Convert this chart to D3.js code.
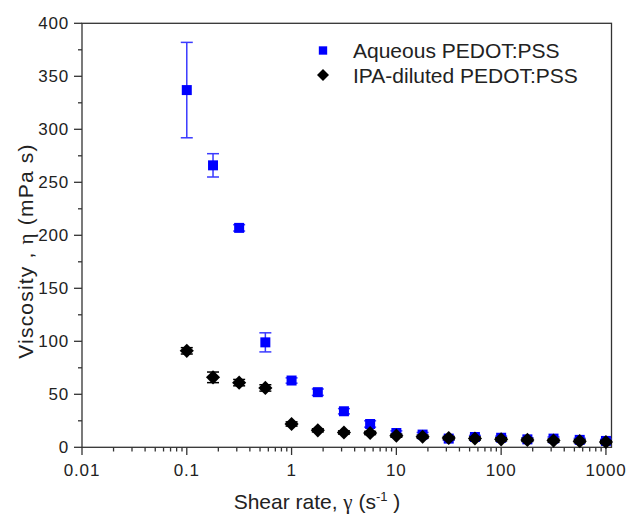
<!DOCTYPE html>
<html>
<head>
<meta charset="utf-8">
<script src="https://cdn.jsdelivr.net/npm/d3@7"></script>
<style>
  body { margin: 0; background: #fff; }
  svg { display: block; }
  text { font-family: 'Liberation Sans', Arial, sans-serif; fill: #222; }
</style>
</head>
<body>
<svg id="chart" width="627" height="515"></svg>
<script>
// shear rates (s^-1)
const shearRates = [0.1, 0.178, 0.316, 0.562, 1, 1.78, 3.16, 5.62, 10, 17.8, 31.6, 56.2, 100, 178, 316, 562, 1000];

// Aqueous PEDOT:PSS viscosity (mPa s) and error half-widths
const aqueous = [337, 266, 207, 99, 63, 52, 34, 22, 13.5, 12, 8.2, 9.7, 9, 7.5, 8.2, 7, 6];
const aqueousErr = [45, 11, 3, 9, 2.5, 3, 2.5, 3, 2, 2, 1.5, 1.5, 1.5, 1.5, 1.5, 1.5, 1.5];

// IPA-diluted PEDOT:PSS
const ipa = [91, 66, 61, 56, 22, 16, 14, 13.5, 11, 10, 8.8, 8.3, 7.5, 7, 6.3, 5.8, 5];
const ipaErr = [3, 5, 3, 3, 2, 1.5, 1.5, 1.5, 1.5, 1.5, 1.5, 1.5, 1.5, 1.5, 1.5, 1.5, 1.5];

const xTicks = [0.01, 0.1, 1, 10, 100, 1000];
const yTicks = [0, 50, 100, 150, 200, 250, 300, 350, 400];
const legendLabels = ['Aqueous PEDOT:PSS', 'IPA-diluted PEDOT:PSS'];

const svg = d3.select('#chart');
const x = d3.scaleLog().domain([0.01, 1130]).range([82, 611.5]);
const y = d3.scaleLinear().domain([0, 400]).range([447.3, 23.3]);

// square-ish diamond (d3's own diamond is too narrow)
const wideDiamond = {
    draw(ctx, size) {
        var r = Math.sqrt(size / 2);
        ctx.moveTo(0, -r); ctx.lineTo(r, 0); ctx.lineTo(0, r); ctx.lineTo(-r, 0); ctx.closePath();
    }
};

// minor ticks
var xMinor = [];
for (var e = -2; e < 3; e++) for (var k = 2; k <= 9; k++) xMinor.push(k * Math.pow(10, e));
var yMinor = d3.range(25, 400, 50);

const axisG = svg.append('g').attr('stroke', '#333').attr('stroke-width', 1.3);
// frame
axisG.append('rect')
    .attr('x', x.range()[0]).attr('y', y.range()[1])
    .attr('width', x.range()[1] - x.range()[0])
    .attr('height', y.range()[0] - y.range()[1])
    .attr('fill', 'none');

axisG.selectAll('line.ymaj').data(yTicks).join('line')
    .attr('x1', 74).attr('x2', 82).attr('y1', d => y(d)).attr('y2', d => y(d));
axisG.selectAll('line.ymin').data(yMinor).join('line').attr('class', 'ymin')
    .attr('x1', 78).attr('x2', 82).attr('y1', d => y(d)).attr('y2', d => y(d));
axisG.selectAll('line.xmaj').data(xTicks).join('line').attr('class', 'xmaj')
    .attr('x1', d => x(d)).attr('x2', d => x(d)).attr('y1', 447.3).attr('y2', 455);
axisG.selectAll('line.xmin').data(xMinor).join('line').attr('class', 'xmin')
    .attr('x1', d => x(d)).attr('x2', d => x(d)).attr('y1', 447.3).attr('y2', 451.5);

svg.selectAll('text.ylab').data(yTicks).join('text').attr('class', 'ylab')
    .attr('x', 69).attr('y', d => y(d) + 6)
    .attr('text-anchor', 'end')
    .style('font-size', '17px').style('letter-spacing', '0.8px')
    .text(d => d);
svg.selectAll('text.xlab').data(xTicks).join('text').attr('class', 'xlab')
    .attr('x', d => x(d)).attr('y', 476)
    .attr('text-anchor', 'middle')
    .style('font-size', '17px').style('letter-spacing', '0.8px')
    .text(d => d);

// axis titles
var xt = svg.append('text').attr('x', 317).attr('y', 509).attr('text-anchor', 'middle').style('font-size', '21px');
xt.append('tspan').text('Shear rate, ');
xt.append('tspan').style('font-family', "'Liberation Serif', serif").text('\u03b3');
xt.append('tspan').text(' (s');
xt.append('tspan').attr('dy', -8).style('font-size', '13px').text('-1');
xt.append('tspan').attr('dy', 8).text(' )');

var yt = svg.append('text').attr('transform', 'translate(33,251) rotate(-90)')
    .attr('text-anchor', 'middle').style('font-size', '21px').style('letter-spacing', '1.2px');
yt.append('tspan').text('Viscosity , ');
yt.append('tspan').style('font-family', "'Liberation Serif', serif").text('\u03b7');
yt.append('tspan').text(' (mPa s)');

// series
const series = [
    { name: legendLabels[0], vals: aqueous, err: aqueousErr, color: '#0000ff', bar: '#3a3aff', shape: d3.symbolSquare, size: 100 },
    { name: legendLabels[1], vals: ipa, err: ipaErr, color: '#000', bar: '#000', shape: wideDiamond, size: 100 },
];

series.forEach(s => {
    var pts = shearRates.map((r, i) => ({ r, v: s.vals[i], e: s.err[i] }));
    var g = svg.append('g');
    g.selectAll('line.eb').data(pts).join('line')
        .attr('x1', d => x(d.r)).attr('x2', d => x(d.r))
        .attr('y1', d => y(d.v - d.e)).attr('y2', d => y(d.v + d.e))
        .attr('stroke', s.bar).attr('stroke-width', 1.5);
    ['-', '+'].forEach(sign => {
        g.selectAll('line.cap' + (sign == '+' ? 'p' : 'm')).data(pts).join('line')
            .attr('x1', d => x(d.r) - 6).attr('x2', d => x(d.r) + 6)
            .attr('y1', d => y(sign == '+' ? d.v + d.e : d.v - d.e))
            .attr('y2', d => y(sign == '+' ? d.v + d.e : d.v - d.e))
            .attr('stroke', s.bar).attr('stroke-width', 1.5);
    });
    g.selectAll('path').data(pts).join('path')
        .attr('d', d3.symbol().type(s.shape).size(s.size))
        .attr('transform', d => 'translate(' + x(d.r) + ',' + y(d.v) + ')')
        .attr('fill', s.color);
});

// legend
var lg = svg.append('g');
series.forEach((s, i) => {
    lg.append('path')
        .attr('d', d3.symbol().type(s.shape).size(i == 0 ? 70 : 72))
        .attr('transform', 'translate(323,' + (50.5 + i * 24.5) + ')')
        .attr('fill', s.color);
    lg.append('text').attr('x', 353).attr('y', 58 + i * 24.5)
        .style('font-size', '21px').text(s.name);
});
</script>
</body>
</html>
